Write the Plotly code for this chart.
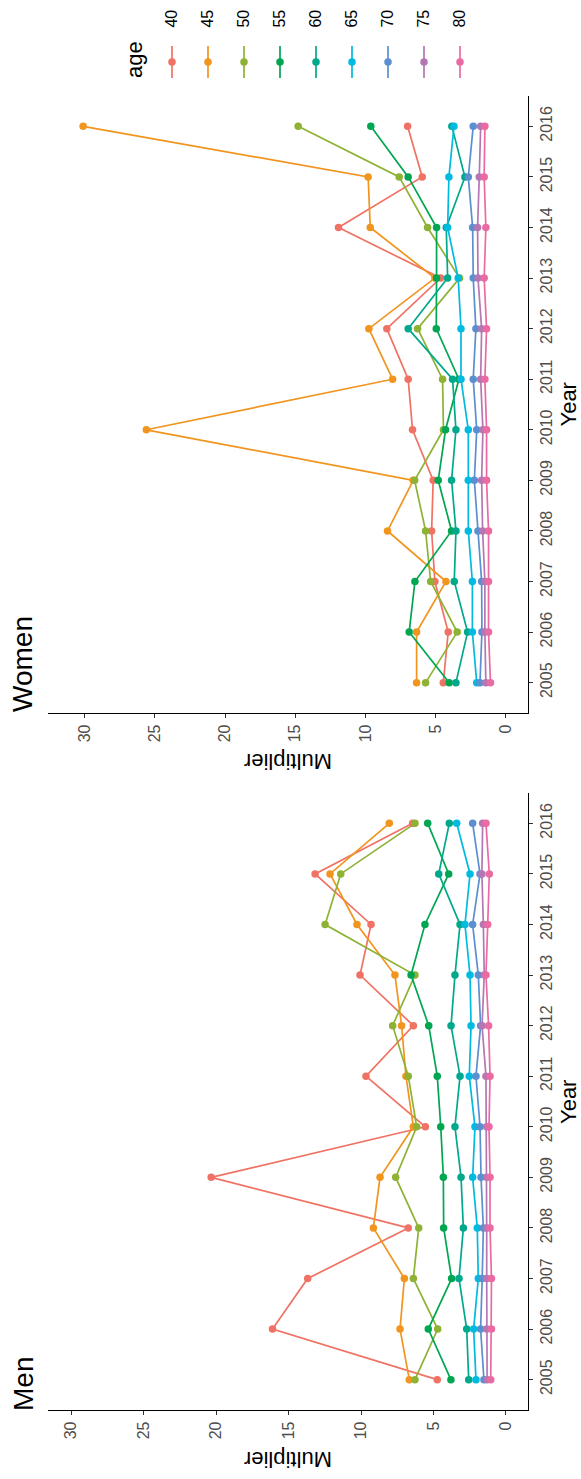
import plotly.graph_objects as go

years = list(range(2005, 2017))
ages = [40, 45, 50, 55, 60, 65, 70, 75, 80]
colors = ["#F07264", "#F1951F", "#8DB234", "#00A651", "#00A88C",
          "#00BAE0", "#5B8FCF", "#B477B4", "#EC6AA2"]

# Men multipliers, 2005..2016
men_40 = [4.74, 16.11, 13.68, 6.74, 20.34, 5.56, 9.66, 6.39, 10.07, 9.31, 13.17, 6.44]
men_45 = [6.67, 7.31, 7.01, 9.15, 8.69, 6.39, 6.90, 7.20, 7.66, 10.28, 12.14, 8.05]
men_50 = [6.28, 4.71, 6.39, 6.02, 7.61, 6.16, 6.74, 7.82, 6.28, 12.48, 11.40, 6.28]
men_55 = [3.80, 5.36, 3.75, 4.30, 4.32, 4.50, 4.74, 5.33, 6.55, 5.59, 3.95, 5.40]
men_60 = [2.57, 2.71, 3.24, 2.94, 3.10, 3.52, 3.17, 3.79, 3.52, 3.17, 4.64, 3.91]
men_65 = [2.07, 2.23, 1.91, 1.98, 2.30, 2.14, 2.53, 2.41, 2.48, 2.83, 2.48, 3.40]
men_70 = [1.52, 1.75, 1.64, 1.56, 1.72, 1.79, 2.07, 1.75, 1.91, 2.30, 1.79, 2.30]
men_75 = [1.30, 1.33, 1.33, 1.33, 1.33, 1.33, 1.38, 1.65, 1.50, 1.56, 1.66, 1.61]
men_80 = [1.05, 1.00, 1.00, 1.10, 1.10, 1.17, 1.10, 1.20, 1.38, 1.26, 1.15, 1.38]

# Women multipliers, 2005..2016
women_40 = [4.46, 4.11, 5.06, 5.29, 5.18, 6.65, 6.96, 8.48, 4.65, 11.92, 5.96, 7.00]
women_45 = [6.36, 6.36, 4.27, 8.43, 6.60, 25.60, 8.07, 9.76, 5.06, 9.66, 9.81, 30.10]
women_50 = [5.72, 3.47, 5.36, 5.72, 6.50, 4.45, 4.51, 6.29, 3.30, 5.58, 7.60, 14.79]
women_55 = [4.04, 6.89, 6.48, 3.87, 4.82, 4.30, 3.35, 4.96, 4.94, 4.94, 6.96, 9.62]
women_60 = [3.56, 2.73, 3.68, 3.56, 3.87, 3.56, 3.80, 6.96, 4.15, 4.25, 2.92, 3.85]
women_65 = [2.08, 2.39, 2.39, 2.68, 2.68, 2.68, 3.20, 3.20, 3.40, 4.15, 4.06, 3.70]
women_70 = [1.85, 1.71, 1.73, 1.99, 2.25, 2.08, 2.33, 2.14, 2.33, 2.37, 2.68, 2.33]
women_75 = [1.43, 1.50, 1.50, 1.66, 1.73, 1.64, 1.80, 1.73, 1.99, 2.02, 1.90, 1.80]
women_80 = [1.10, 1.24, 1.24, 1.24, 1.38, 1.38, 1.50, 1.38, 1.55, 1.43, 1.55, 1.50]

men = [men_40, men_45, men_50, men_55, men_60, men_65, men_70, men_75, men_80]
women = [women_40, women_45, women_50, women_55, women_60, women_65, women_70, women_75, women_80]

W, H = 581, 1479
FONT = "Liberation Sans, Arial, sans-serif"
TICKC = "#4D4D4D"


def px_x(p):
    return p / W


def px_y(p):
    return 1 - p / H


fig = go.Figure()

panels = [(men, "x", "y"), (women, "x2", "y2")]
# lines first, then points (like ggplot layering)
for data, xa, ya in panels:
    for i, a in enumerate(ages):
        fig.add_trace(go.Scatter(x=data[i], y=years, mode="lines", xaxis=xa, yaxis=ya,
                                 line=dict(color=colors[i], width=1.7),
                                 showlegend=False, hoverinfo="skip"))
    for i, a in enumerate(ages):
        fig.add_trace(go.Scatter(x=data[i], y=years, mode="markers", xaxis=xa, yaxis=ya,
                                 marker=dict(color=colors[i], size=7.5),
                                 name=str(a), showlegend=False))

# custom legend keys
for i, a in enumerate(ages):
    fig.add_trace(go.Scatter(x=[i, i], y=[0, 1], mode="lines", xaxis="x3", yaxis="y3",
                             line=dict(color=colors[i], width=1.7),
                             showlegend=False, hoverinfo="skip"))
    fig.add_trace(go.Scatter(x=[i], y=[0.5], mode="markers", xaxis="x3", yaxis="y3",
                             marker=dict(color=colors[i], size=7.5),
                             showlegend=False, hoverinfo="skip"))

xdom = [px_x(48), px_x(528)]
common_x = dict(showline=True, linecolor="black", linewidth=1.3, ticks="outside",
                ticklen=4, tickcolor="#333333", tickwidth=1.2, tickangle=-90,
                tickvals=[0, 5, 10, 15, 20, 25, 30],
                tickfont=dict(size=16, color=TICKC, family=FONT),
                showgrid=False, zeroline=False, domain=xdom)
common_y = dict(showline=True, linecolor="black", linewidth=1.3, ticks="outside",
                ticklen=4, tickcolor="#333333", tickwidth=1.2, tickangle=-90,
                tickvals=years, side="right", range=[2004.4, 2016.6],
                tickfont=dict(size=16, color=TICKC, family=FONT),
                showgrid=False, zeroline=False)

fig.update_layout(
    width=W, height=H, margin=dict(l=0, r=0, t=0, b=0),
    paper_bgcolor="white", plot_bgcolor="white",
    font=dict(family=FONT),
    xaxis=dict(common_x, range=[31.6, -1.52], anchor="y"),
    yaxis=dict(common_y, anchor="x", domain=[px_y(1410), px_y(793)]),
    xaxis2=dict(common_x, range=[32.6, -1.57], anchor="y2"),
    yaxis2=dict(common_y, anchor="x2", domain=[px_y(713), px_y(96)]),
    xaxis3=dict(domain=[px_x(154), px_x(478)], range=[-0.5, 8.5], visible=False, anchor="y3"),
    yaxis3=dict(domain=[px_y(78), px_y(46)], range=[0, 1], visible=False, anchor="x3"),
)

ann = []
for i, a in enumerate(ages):
    ann.append(dict(x=i, y=px_y(18.6), xref="x3", yref="paper", text=str(a), showarrow=False,
                    textangle=-90, font=dict(size=16, color="black", family=FONT),
                    xanchor="center", yanchor="middle"))
ann.append(dict(x=px_x(134), y=px_y(60), xref="paper", yref="paper", text="age",
                showarrow=False, textangle=-90, font=dict(size=22, color="black", family=FONT),
                xanchor="center", yanchor="middle"))
# panel titles
ann.append(dict(x=px_x(23), y=px_y(1384), xref="paper", yref="paper", text="Men",
                showarrow=False, textangle=-90, font=dict(size=28, color="black", family=FONT),
                xanchor="center", yanchor="middle"))
ann.append(dict(x=px_x(22), y=px_y(664), xref="paper", yref="paper", text="Women",
                showarrow=False, textangle=-90, font=dict(size=28, color="black", family=FONT),
                xanchor="center", yanchor="middle"))
# axis titles
for yc, yb in [(1102, 1460), (404.5, 761.5)]:
    ann.append(dict(x=px_x(568), y=px_y(yc), xref="paper", yref="paper", text="Year",
                    showarrow=False, textangle=-90, font=dict(size=22, color="black", family=FONT),
                    xanchor="center", yanchor="middle"))
    ann.append(dict(x=px_x(288.5), y=px_y(yb), xref="paper", yref="paper", text="Multiplier",
                    showarrow=False, textangle=180, font=dict(size=22, color="black", family=FONT),
                    xanchor="center", yanchor="middle"))
fig.update_layout(annotations=ann)

fig.write_html("out.html")
